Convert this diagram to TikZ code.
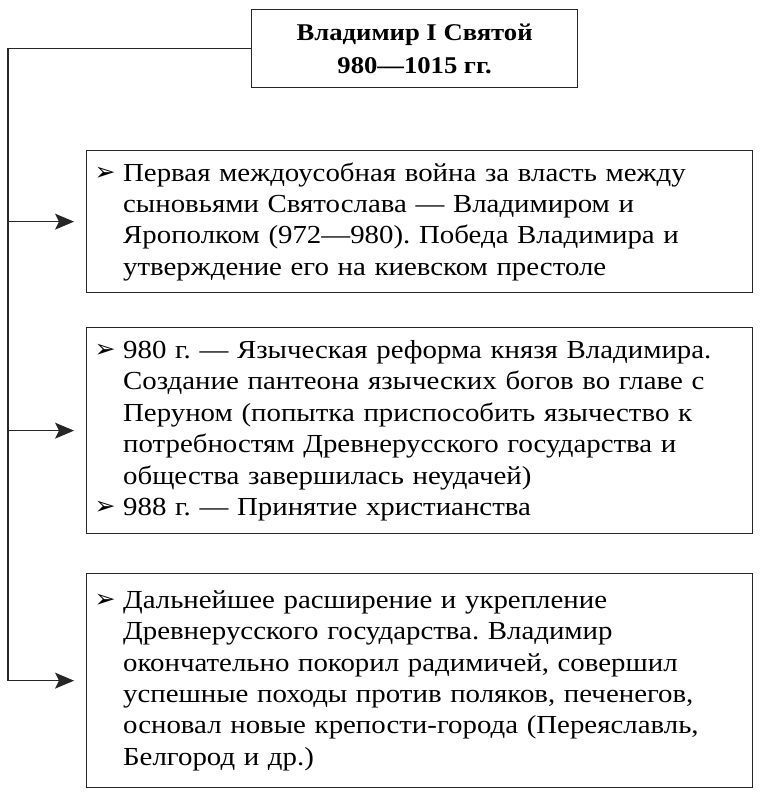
\documentclass[tikz,border=0pt]{standalone}
\usepackage{fontspec}
\setmainfont[FakeStretch=1.11]{Liberation Serif}
\newfontfamily\dv{DejaVu Sans}
\usetikzlibrary{arrows.meta}
\newcommand{\bul}{\makebox[27.5pt][l]{\hspace*{-1pt}\raisebox{0.5pt}{\dv\fontsize{25}{25}\selectfont ➢}}}
\newcommand{\ind}{\hspace*{27.5pt}}
\begin{document}
\frenchspacing
\begin{tikzpicture}[x=1pt,y=-1pt,
  box/.style={draw=black!85,line width=1.3pt,anchor=north west,inner xsep=9pt,inner ysep=0pt,
    minimum width=666pt,text width=648pt,align=left,font=\fontsize{26}{31.4}\selectfont},
  titlebox/.style={draw=black!85,line width=1.3pt,minimum width=326pt,minimum height=78pt,
    align=center,font=\bfseries\fontsize{24}{33}\selectfont,anchor=north west,inner sep=0pt},
  conn/.style={line width=1.2pt,black!85},
  arr/.style={conn,-{Stealth[length=19pt,width=16pt,inset=4pt]},shorten >=12pt}]
\useasboundingbox (0,0) rectangle (768,799);
\fill[white] (0,0) rectangle (768,799);
\node[titlebox] (t) at (251,9) {Владимир I Святой\\980—1015 гг.};
\node[box,minimum height=142pt] (b1) at (86,150) {\bul Первая междоусобная война за власть между\\
\ind сыновьями Святослава — Владимиром и\\
\ind Ярополком (972—980). Победа Владимира и\\
\ind утверждение его на киевском престоле};
\node[box,minimum height=206pt] (b2) at (86,327) {\bul 980 г. — Языческая реформа князя Владимира.\\
\ind Создание пантеона языческих богов во главе с\\
\ind Перуном (попытка приспособить язычество к\\
\ind потребностям Древнерусского государства и\\
\ind общества завершилась неудачей)\\
\bul 988 г. — Принятие христианства};
\node[box,minimum height=214pt] (b3) at (86,573) {\bul Дальнейшее расширение и укрепление\\
\ind Древнерусского государства. Владимир\\
\ind окончательно покорил радимичей, совершил\\
\ind успешные походы против поляков, печенегов,\\
\ind основал новые крепости-города (Переяславль,\\
\ind Белгород и др.)};
\coordinate (L) at (8,0);
\draw[conn] (t.west) -- (t.west -| L) -- (b3.west -| L);
\draw[arr] (b1.west -| L) -- (b1.west);
\draw[arr] (b2.west -| L) -- (b2.west);
\draw[arr] (b3.west -| L) -- (b3.west);
\end{tikzpicture}
\end{document}
